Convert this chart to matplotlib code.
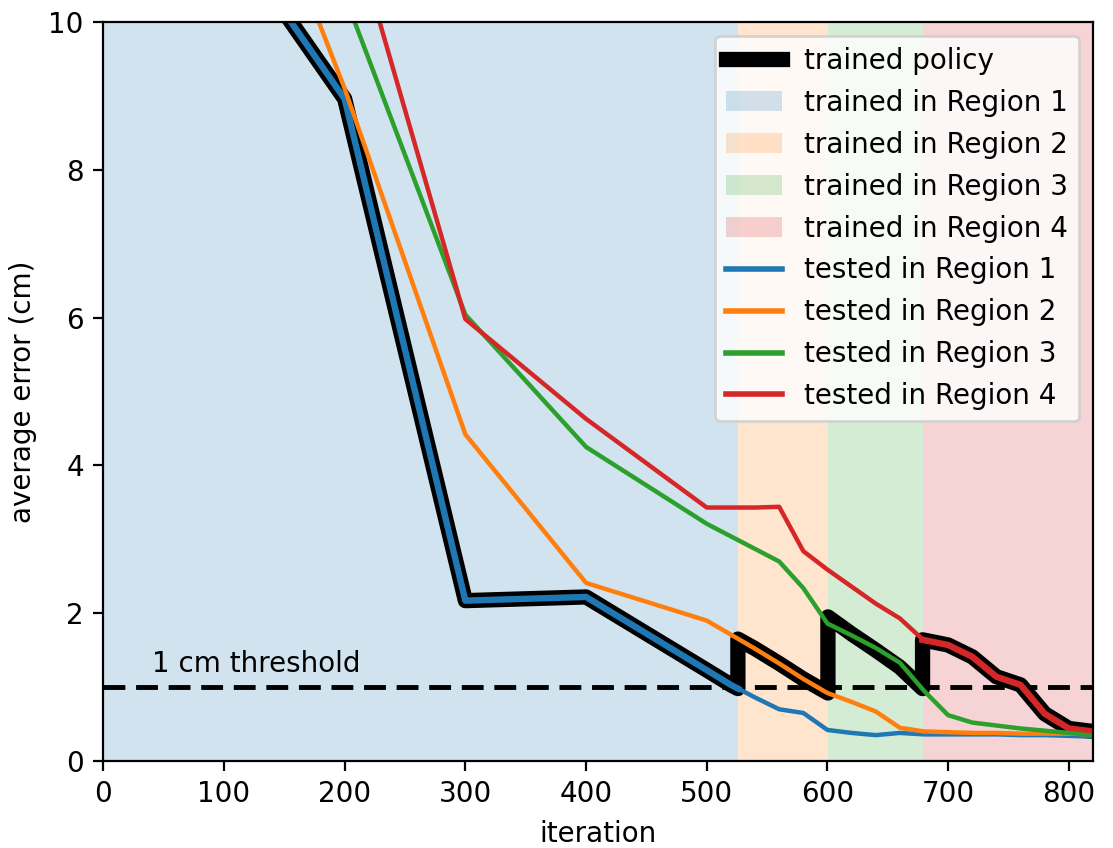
import numpy as np
import matplotlib.pyplot as plt
from matplotlib.patches import Patch
from matplotlib.lines import Line2D

# iterations at which every policy was tested
iters = [100, 200, 300, 400, 500, 520, 540, 560, 580, 600, 620, 640, 660, 680,
         700, 720, 740, 760, 780, 800, 820]

# average error (cm) tested in each region
err_r1 = [11.3, 8.96, 2.17, 2.22, 1.23, 1.03, 0.86, 0.70, 0.65, 0.42, 0.38, 0.35,
          0.38, 0.36, 0.36, 0.36, 0.36, 0.35, 0.35, 0.34, 0.33]
err_r2 = [13.3, 9.1, 4.42, 2.41, 1.90, 1.71, 1.52, 1.32, 1.11, 0.92, 0.80, 0.67,
          0.45, 0.40, 0.39, 0.38, 0.38, 0.37, 0.37, 0.37, 0.36]
err_r3 = [14.7, 10.36, 6.04, 4.25, 3.21, 3.04, 2.87, 2.70, 2.34, 1.86, 1.70, 1.53,
          1.33, 0.95, 0.62, 0.52, 0.48, 0.44, 0.41, 0.38, 0.35]
err_r4 = [17.3, 11.64, 5.98, 4.63, 3.43, 3.43, 3.43, 3.44, 2.84, 2.59, 2.36, 2.13,
          1.93, 1.63, 1.57, 1.41, 1.14, 1.03, 0.64, 0.44, 0.40]

# iterations where training switched to the next region
switch = [525.8, 600.4, 678.8]

# trained policy, one piece per region
trained_x = [
    [100, 200, 300, 400, 500, 520, 525.8],
    [525.8, 540, 560, 580, 600.4],
    [600.4, 620, 640, 660, 678.8],
    [678.8, 700, 720, 740, 760, 780, 800, 820],
]
trained_y = [
    [11.3, 8.96, 2.17, 2.22, 1.23, 1.03, 0.98],
    [1.65, 1.52, 1.32, 1.11, 0.92],
    [1.95, 1.72, 1.50, 1.27, 0.98],
    [1.64, 1.57, 1.41, 1.14, 1.03, 0.64, 0.44, 0.40],
]

colors = ['tab:blue', 'tab:orange', 'tab:green', 'tab:red']
tested = [err_r1, err_r2, err_r3, err_r4]

fig = plt.figure(figsize=(1113 / 200, 848 / 200), dpi=200)
ax = fig.add_axes([0.0928, 0.1026, 0.8892, 0.8714])

bounds = [0] + switch + [820]
for i in range(4):
    ax.axvspan(bounds[i], bounds[i + 1], color=colors[i], alpha=0.2, lw=0)

ax.axhline(1, color='black', ls='--', lw=1.75, dashes=(4.5, 2.2))
ax.text(40, 1.2, '1 cm threshold')

# black line through all pieces (with the jumps)
all_x = []
all_y = []
for px, py in zip(trained_x, trained_y):
    all_x += px
    all_y += py
ax.plot(all_x, all_y, color='black', lw=5.5, solid_capstyle='round',
        solid_joinstyle='round')
# first and last piece get a thicker coloured line on top
for i in [0, 3]:
    ax.plot(trained_x[i], trained_y[i], color=colors[i], lw=2.3)

for i in range(4):
    ax.plot(iters, tested[i], color=colors[i], lw=1.6)

ax.set_xlim(0, 820)
ax.set_ylim(0, 10)
ax.set_xlabel('iteration')
ax.set_ylabel('average error (cm)')

handles = [Line2D([], [], color='black', lw=5.5)]
labels = ['trained policy']
for i in range(4):
    handles.append(Patch(color=colors[i], alpha=0.2, lw=0))
    labels.append('trained in Region %d' % (i + 1))
for i in range(4):
    handles.append(Line2D([], [], color=colors[i], lw=2))
    labels.append('tested in Region %d' % (i + 1))
ax.legend(handles, labels, loc='upper right')

plt.savefig('out.png', dpi=200)
